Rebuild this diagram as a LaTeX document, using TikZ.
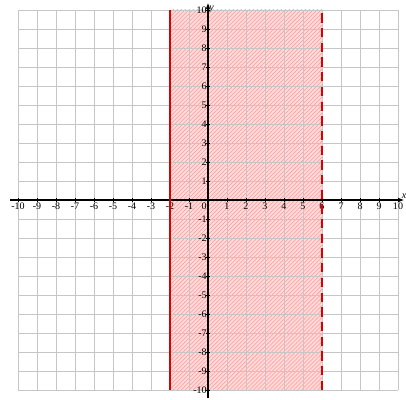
\documentclass[tikz,border=0pt]{standalone}
\usepackage{fontspec}
\setmainfont{Liberation Serif}
\usetikzlibrary{arrows.meta,patterns,positioning}

\begin{document}
\begin{tikzpicture}[
  x=0.5cm, y=0.5cm,
  gridline/.style={draw=gray!45, line width=0.4pt},
  axis/.style={-{Stealth[length=1.6mm]}, line width=0.9pt},
  ticklabel/.style={font=\fontsize{7.5}{8}\selectfont, inner sep=0.8pt},
  boundary/.style={draw=red!85!black, line width=1.1pt}
]
  \useasboundingbox (-10.947,-10.474) rectangle (10.421,10.526);

  % shaded strip -2 <= x < 6
  \fill[red!14] (-2,-10) rectangle (6,10);
  \fill[pattern=north east lines, pattern color=red!40] (-2,-10) rectangle (6,10);

  \draw[gridline, step=0.5cm] (-10,-10) grid (10,10);

  % axes
  \coordinate (xl) at (-10.4,0);
  \coordinate (xr) at (10.3,0);
  \coordinate (yb) at (0,-10.4);
  \coordinate (yt) at (0,10.35);
  \draw[axis] (xl) -- (xr);
  \draw[axis] (yb) -- (yt);
  \node[ticklabel, above left=0pt and -3pt] (xname) at (xr) {\textit{x}};
  \node[ticklabel, right=0pt] (yname) at (0,10.05) {\textit{y}};

  \foreach \k in {-10,...,-1,1,2,...,10} {
    \draw[line width=0.6pt] (\k,-0.12) -- (\k,0.12);
    \draw[line width=0.6pt] (-0.12,\k) -- (0.12,\k);
    \node[ticklabel, below=1pt] (xt\k) at (\k,0) {\k};
    \node[ticklabel, left=0pt] (yt\k) at (0,\k) {\k};
  }
  \node[ticklabel, below left=1pt and 0pt] (origin) at (0,0) {0};

  % boundaries
  \coordinate (lb) at (-2,-10);
  \coordinate (lt) at (-2,10);
  \coordinate (rb) at (6,-10);
  \coordinate (rt) at (6,10);
  \draw[boundary] (lb) -- (lt);
  \draw[boundary, dash pattern=on 7pt off 4pt] (rb) -- (rt);
\end{tikzpicture}
\end{document}
